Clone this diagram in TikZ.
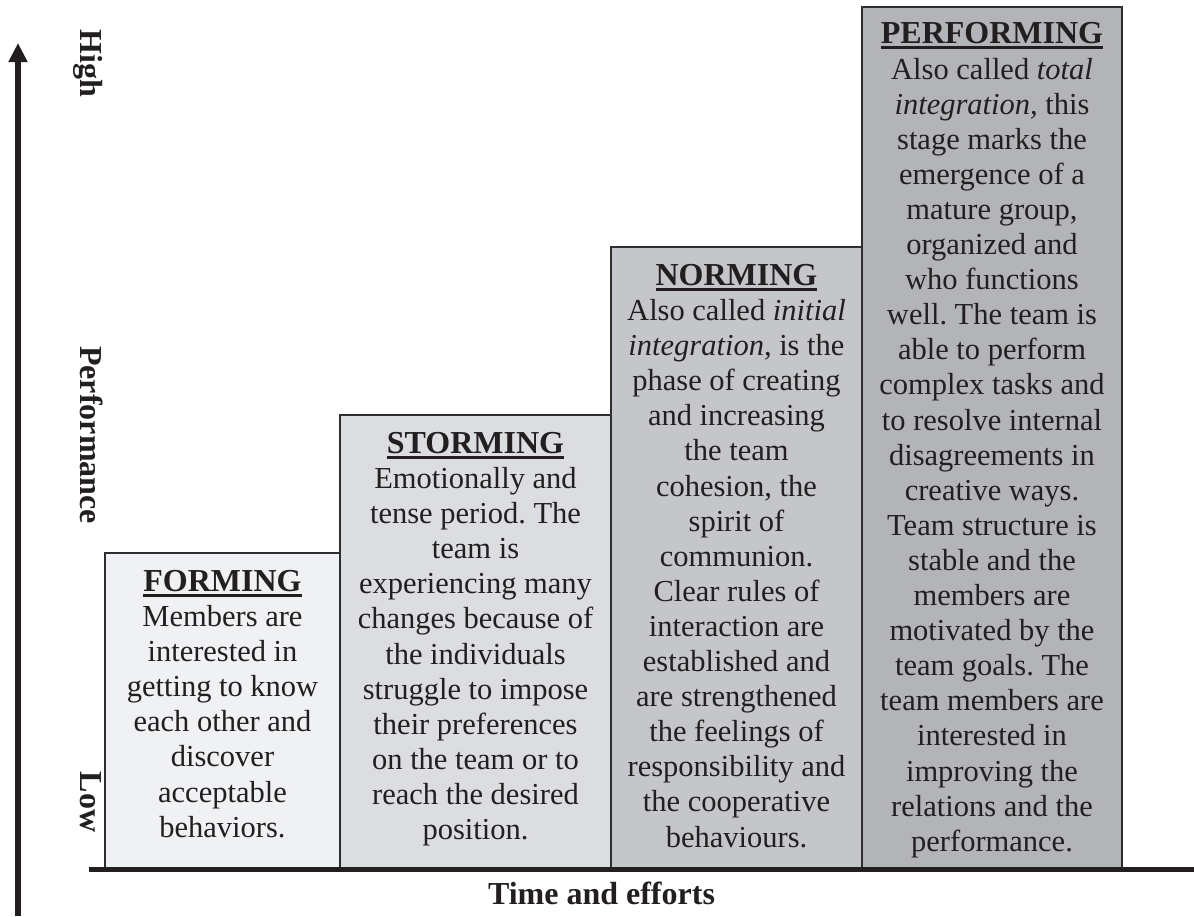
\documentclass[tikz,border=0pt]{standalone}
\usepackage{fontspec}
\setmainfont{Liberation Serif}
\usetikzlibrary{arrows.meta}
\frenchspacing

\definecolor{ink}{HTML}{231F20}
\definecolor{edge}{HTML}{2E2E30}
\definecolor{fillA}{HTML}{F0F1F3}
\definecolor{fillB}{HTML}{DCDDE0}
\definecolor{fillC}{HTML}{C5C6C9}
\definecolor{fillD}{HTML}{B3B4B8}

% bold, underlined stage heading
\newcommand\stagetitle[1]{{\fontsize{16}{17.55}\selectfont\bfseries
  \setbox0\hbox{#1}\rlap{\rule[-2.6pt]{\wd0}{1.35pt}}\box0}}
% fixes the height of the first line so the heading baseline is predictable
\newcommand\firststrut{\rule{0pt}{14pt}}

\tikzset{
  stagebox/.style={draw=edge, line width=0.75pt},
  stagetext/.style={anchor=north, inner sep=0pt, align=center, text=ink,
    font=\fontsize{15.25}{17.55}\selectfont},
  axislabel/.style={anchor=base, rotate=-90, inner sep=0pt, text=ink,
    font=\fontsize{16}{19}\selectfont\bfseries},
  axisline/.style={draw=ink, line width=3pt},
}

\begin{document}
\begin{tikzpicture}[x=0.5pt, y=-0.5pt]
\useasboundingbox (0,0) rectangle (1194,916);

% stage blocks
\filldraw[stagebox, fill=fillA] (105,553) rectangle (340,869);
\filldraw[stagebox, fill=fillB] (340,415) rectangle (611,869);
\filldraw[stagebox, fill=fillC] (611,247) rectangle (862,869);
\filldraw[stagebox, fill=fillD] (862,7) rectangle (1122,869);

% axes
\coordinate (ybottom) at (18,916);
\coordinate (ytop) at (18,43);
\coordinate (xleft) at (89,869);
\coordinate (xright) at (1194,869);
\draw[axisline, -{Triangle[length=9.5pt, width=9pt]}] (ybottom) -- (ytop);
\draw[draw=ink, line width=2.5pt] (xleft) -- (xright);

% axis labels
\node[axislabel] (high) at (80,63.5) {High};
\node[axislabel] (perf) at (80,435) {Performance};
\node[axislabel] (low) at (80,802) {Low};
\node[anchor=base, inner sep=0pt, text=ink,
      font=\fontsize{16}{19}\selectfont\bfseries] (time) at (601.5,904) {Time and efforts};

% stage descriptions
\node[stagetext] (forming) at (222.5,563) {\firststrut\stagetitle{FORMING}\\
Members are\\
interested in\\
getting to know\\
each other and\\
discover\\
acceptable\\
behaviors.};

\node[stagetext] (storming) at (475.5,425) {\firststrut\stagetitle{STORMING}\\
Emotionally and\\
tense period. The\\
team is\\
experiencing many\\
changes because of\\
the individuals\\
struggle to impose\\
their preferences\\
on the team or to\\
reach the desired\\
position.};

\node[stagetext] (norming) at (736.5,257) {\firststrut\stagetitle{NORMING}\\
Also called \textit{initial}\\
\textit{integration}, is the\\
phase of creating\\
and increasing\\
the team\\
cohesion, the\\
spirit of\\
communion.\\
Clear rules of\\
interaction are\\
established and\\
are strengthened\\
the feelings of\\
responsibility and\\
the cooperative\\
behaviours.};

\node[stagetext] (performing) at (992,15.5) {\firststrut\stagetitle{PERFORMING}\\
Also called \textit{total}\\
\textit{integration,} this\\
stage marks the\\
emergence of a\\
mature group,\\
organized and\\
who functions\\
well. The team is\\
able to perform\\
complex tasks and\\
to resolve internal\\
disagreements in\\
creative ways.\\
Team structure is\\
stable and the\\
members are\\
motivated by the\\
team goals. The\\
team members are\\
interested in\\
improving the\\
relations and the\\
performance.};
\end{tikzpicture}
\end{document}
